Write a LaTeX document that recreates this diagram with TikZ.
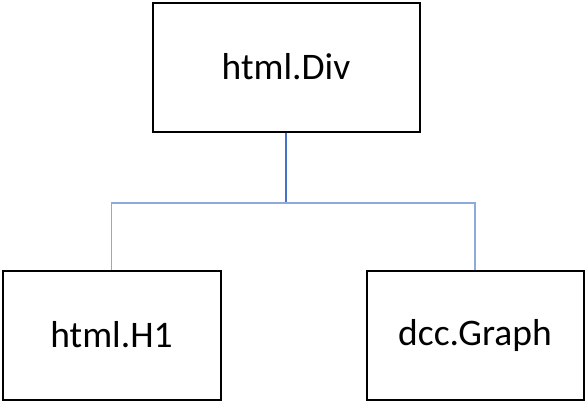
\documentclass[tikz,border=0pt]{standalone}
\usepackage{fontspec}
\setmainfont{Carlito}
\definecolor{trunk}{HTML}{4472C4}
\definecolor{branch}{HTML}{8EA9DB}
\begin{document}
\begin{tikzpicture}[x=1pt,y=-1pt,
  box/.style={draw=black,line width=2pt,fill=white,inner sep=0pt,font=\fontsize{37.5}{42}\selectfont},
  link/.style={line width=1.2pt}]
\useasboundingbox (0,0) rectangle (585,402);
\node[box,minimum width=267pt,minimum height=129pt] (div) at (286,67) {html.Div};
\node[box,minimum width=218pt,minimum height=129pt] (h1) at (111.5,335) {html.H1};
\node[box,minimum width=217pt,minimum height=129pt] (graph) at (475,335) {dcc.Graph};
\coordinate (mid) at (div.south |- 0,203);
\draw[link,draw=trunk] (div.south) -- (mid);
\draw[link,draw=branch] (h1.north) |- (mid) -| (graph.north);
\end{tikzpicture}
\end{document}
